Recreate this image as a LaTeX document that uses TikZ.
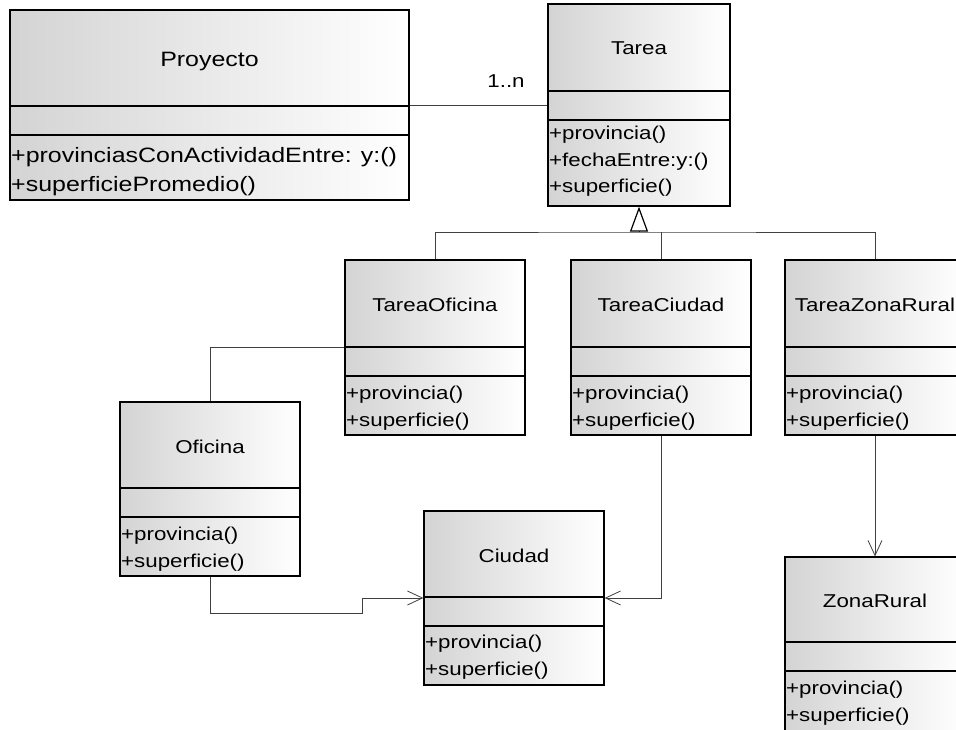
\documentclass[tikz,border=0pt]{standalone}
\usepackage{fontspec}
\setmainfont{Liberation Sans}[FakeStretch=1.2]
\usetikzlibrary{arrows.meta, positioning}

\tikzset{
  umlbox/.style={draw, line width=1.3pt, left color=black!17, right color=white, inner sep=0pt},
  umlsep/.style={line width=1.3pt},
  umlname/.style={anchor=base, inner sep=0pt, font=\fontsize{18.6}{26}\selectfont},
  umlops/.style={anchor=base west, align=left, inner sep=0pt, font=\fontsize{18.6}{26.5}\selectfont},
  bigfont/.style={font=\fontsize{20.8}{29}\selectfont},
  umllink/.style={draw=black!75, line width=0.8pt},
  navig/.style={umllink, -{Straight Barb[length=15pt, width=14pt, line width=0.8pt]}},
  inherit/.style={umllink, -{Triangle[open, length=25pt, width=18pt, line width=1.2pt, color=black]}},
}

\begin{document}
\begin{tikzpicture}[x=1pt, y=-1pt]

\useasboundingbox[fill=white] (0,0) rectangle (956,730);
\clip (0,0) rectangle (956,730);

% Proyecto
\node[umlbox, minimum width=399, minimum height=190] (proyecto) at (209.5,105) {};
\draw[umlsep] (10,106) -- (409,106) (10,135) -- (409,135);
\node[umlname, bigfont] (proyectoname) at (209.5,67) {Proyecto};
\node[umlops, bigfont] (proyectoops) at (11,192) {+provinciasConActividadEntre: y:()\\+superficiePromedio()};

% Tarea
\node[umlbox, minimum width=182, minimum height=202] (tarea) at (639,105) {};
\draw[umlsep] (548,91) -- (730,91) (548,120) -- (730,120);
\node[umlname] (tareaname) at (639,55) {Tarea};
\node[umlops] (tareaops) at (549,193) {+provincia()\\+fechaEntre:y:()\\+superficie()};

% TareaOficina
\node[umlbox, minimum width=180, minimum height=175] (toficina) at (435,347.5) {};
\draw[umlsep] (345,347) -- (525,347) (345,376) -- (525,376);
\node[umlname] (toficinaname) at (435,311) {TareaOficina};
\node[umlops] (toficinaops) at (346,426) {+provincia()\\+superficie()};

% TareaCiudad
\node[umlbox, minimum width=180, minimum height=175] (tciudad) at (661,347.5) {};
\draw[umlsep] (571,347) -- (751,347) (571,376) -- (751,376);
\node[umlname] (tciudadname) at (661,311) {TareaCiudad};
\node[umlops] (tciudadops) at (572,426) {+provincia()\\+superficie()};

% TareaZonaRural
\node[umlbox, minimum width=180, minimum height=175] (tzona) at (875,347.5) {};
\draw[umlsep] (785,347) -- (965,347) (785,376) -- (965,376);
\node[umlname] (tzonaname) at (875,311) {TareaZonaRural};
\node[umlops] (tzonaops) at (786,426) {+provincia()\\+superficie()};

% Oficina
\node[umlbox, minimum width=180, minimum height=174] (oficina) at (210,489) {};
\draw[umlsep] (120,488) -- (300,488) (120,517) -- (300,517);
\node[umlname] (oficinaname) at (210,453) {Oficina};
\node[umlops] (oficinaops) at (121,567) {+provincia()\\+superficie()};

% Ciudad
\node[umlbox, minimum width=180, minimum height=174] (ciudad) at (514,598) {};
\draw[umlsep] (424,597) -- (604,597) (424,626) -- (604,626);
\node[umlname] (ciudadname) at (514,562) {Ciudad};
\node[umlops] (ciudadops) at (425,675) {+provincia()\\+superficie()};

% ZonaRural
\node[umlbox, minimum width=180, minimum height=174] (zona) at (875,644) {};
\draw[umlsep] (785,642) -- (965,642) (785,671) -- (965,671);
\node[umlname] (zonaname) at (875,607) {ZonaRural};
\node[umlops] (zonaops) at (786,721) {+provincia()\\+superficie()};

\coordinate (inh) at (639,232);
\coordinate (bend) at (362,613);

% relaciones
\draw[umllink] (proyecto) -- node[pos=0.7, above=17pt, inner sep=0pt, font=\fontsize{18.6}{26}\selectfont] (mult) {1..n} (tarea);
\draw[inherit] (inh) -- (tarea.south);
\draw[umllink] (toficina.north) |- (inh) -| (tzona.north);
\draw[umllink] (tciudad.north) -- (tciudad.north |- inh);
\draw[umllink] (toficina.west) -| (oficina.north);
\draw[navig] (oficina.south) |- (bend) |- (ciudad.west);
\draw[navig] (tciudad.south) |- (ciudad.east);
\draw[navig] (tzona.south) -- (zona.north);

\end{tikzpicture}
\end{document}
